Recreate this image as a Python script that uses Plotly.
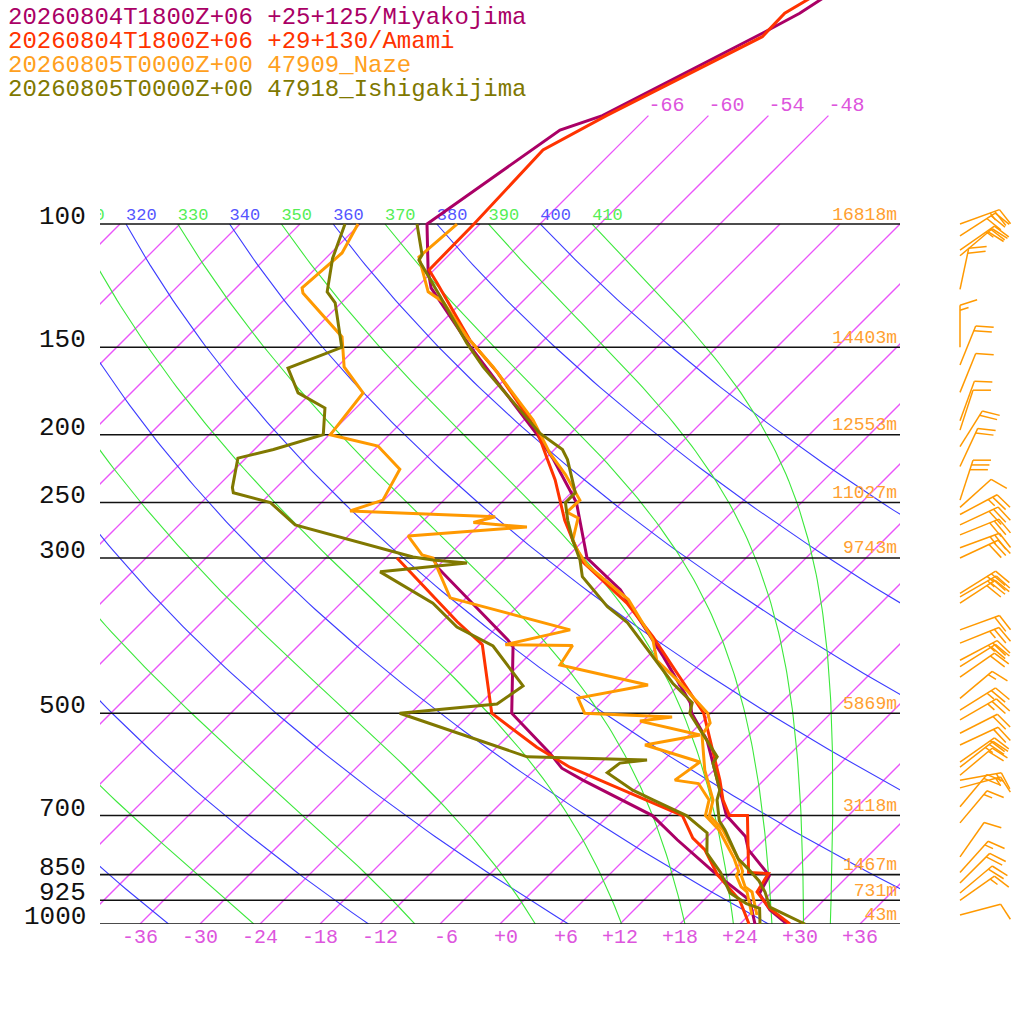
import numpy as np
import plotly.graph_objects as go

# ---------------- sounding data (hPa, degC) ----------------
miyako_p = [1000, 955, 905, 853, 783, 750, 700, 644, 546, 500, 483, 415, 333, 300, 250, 217, 200, 150, 123.4, 116.3, 100, 73.4, 70, 53.3, 50, 40]
miyako_t = [28.7, 25.6, 22.9, 22.1, 17.4, 15.8, 11.8, 8.6, 2.3, -1.9, -3.1, -10.4, -21.4, -27.9, -34.5, -41.1, -45.2, -60.6, -70.5, -72.6, -77.3, -73.4, -70.6, -62.8, -61.1, -57.5]
miyako_td_p = [1000, 925, 842, 758, 700, 623, 599, 570, 500, 402, 393, 310, 300]
miyako_td = [25.5, 22.6, 16.1, 9.3, 4.4, -6.1, -9.4, -12.1, -19.9, -26.4, -27.6, -41.8, -43.3]

amami_p = [1000, 950, 900, 847, 844, 700, 700, 665, 623, 500, 389, 348, 304, 283, 265, 248, 232, 217, 197, 163, 146.5, 121.4, 116.3, 100, 78.4, 70, 54, 50, 40]
amami_t = [29.0, 25.4, 22.5, 21.8, 19.7, 13.9, 12.1, 9.9, 7.6, -0.7, -13.4, -19.4, -27.9, -31.1, -33.9, -36.4, -38.9, -41.7, -45.7, -55.4, -61.4, -70.4, -72.5, -72.6, -73.1, -70.2, -62.5, -62.6, -58.0]
amami_td_p = [1000, 925, 850, 784, 754, 700, 623, 597, 559, 500, 399, 370, 300]
amami_td = [24.9, 21.6, 16.8, 13.1, 10.7, 7.4, -4.4, -8.7, -14.0, -21.9, -29.7, -34.5, -46.9]

naze_p = [971, 900, 885, 853, 841, 805, 734, 700, 665, 603, 537, 516, 500, 448, 420, 393, 344, 307, 292, 283, 263, 258, 248, 228, 212.5, 190.5, 160, 145, 129.2, 125, 111.5, 100]
naze_t = [24.8, 22.0, 20.8, 19.3, 19.0, 17.2, 12.9, 10.1, 8.9, 5.1, 1.3, 0.9, -0.3, -6.7, -10.7, -13.1, -19.6, -27.2, -29.7, -31.1, -32.8, -34.5, -34.4, -38.4, -42.1, -47.1, -56.4, -62.0, -67.9, -70.4, -74.8, -74.3]
naze_td_p = [971, 900, 885, 853, 841, 805, 734, 700, 665, 630, 623, 587, 555, 537, 513, 506, 500, 475.5, 455.6, 426.6, 400, 399, 380, 342, 300, 297, 279, 271, 267, 262, 257, 248, 224, 207.6, 200, 174.3, 160, 145, 125.5, 123.4, 110, 100]
naze_td = [24.3, 21.5, 20.4, 18.8, 18.6, 16.8, 12.5, 9.7, 8.5, 5.8, 3.1, 3.8, -3.4, 1.1, -6.3, -3.5, -12.6, -14.8, -9.1, -19.9, -20.6, -27.4, -22.4, -37.6, -43.3, -44.7, -48.0, -37.0, -42.8, -41.2, -56.3, -54.1, -55.5, -60.0, -65.9, -66.8, -71.3, -74.5, -82.8, -83.4, -82.9, -84.2]

ishi_p = [1000, 946, 900, 868, 834, 807, 734, 712, 665, 644, 589, 577, 500, 483, 453, 371, 352, 319, 302, 283, 265, 250, 242, 217, 210, 199, 160, 148, 127, 112.6, 110.7, 100]
ishi_t = [30.5, 25.3, 23.3, 21.6, 19.3, 17.3, 13.1, 11.6, 9.3, 8.6, 5.2, 5.0, -2.1, -2.9, -6.8, -17.4, -21.0, -26.5, -28.4, -31.1, -33.6, -35.6, -35.6, -39.7, -41.2, -45.1, -57.4, -61.4, -68.7, -74.5, -74.7, -78.3]
ishi_td_p = [1000, 950, 935, 903, 844, 792, 741, 700, 665, 644, 608, 589, 583, 577, 500, 485, 457, 400.7, 376.5, 348, 314, 305, 302, 299, 269, 250, 242, 238, 216, 210, 200, 183.2, 174.3, 160.6, 150, 129.6, 125, 112, 100]
ishi_td = [26.0, 24.4, 22.6, 19.9, 16.9, 13.6, 11.6, 7.8, 2.9, -0.1, -4.4, -4.1, -1.7, -14.0, -31.1, -22.3, -21.5, -28.5, -34.0, -38.8, -47.2, -39.4, -43.1, -45.4, -60.4, -65.1, -69.8, -70.4, -72.8, -70.1, -66.6, -69.1, -73.3, -76.8, -73.5, -78.6, -80.5, -83.3, -85.5]

# Naze winds (hPa, direction deg, knots)
wind_p = [971, 925, 903, 874, 844, 802, 717, 680, 639, 623, 613, 597, 587, 555, 534, 511, 495, 476, 444, 429,
          420, 397, 380, 348, 341, 337, 300, 290, 278, 269, 260, 254, 248, 222, 208, 197, 191, 174, 159, 150,
          124, 111, 109, 104, 100]
wind_dir = [75, 55, 50, 45, 42, 35, 40, 40, 75, 80, 50, 52, 55, 65, 63, 60, 58, 50, 55, 58,
            62, 68, 70, 57, 60, 58, 65, 70, 68, 65, 62, 48, 18, 25, 32, 18, 20, 22, 22, 0,
            12, 50, 55, 57, 70]
wind_kt = [10, 15, 20, 20, 15, 10, 15, 20, 15, 15, 20, 25, 20, 20, 20, 25, 25, 15, 20, 20,
           25, 25, 20, 30, 25, 25, 30, 25, 30, 30, 25, 10, 30, 20, 20, 10, 10, 10, 20, 15,
           20, 20, 25, 30, 25]

legend_txt = ["20260804T1800Z+06 +25+125/Miyakojima", "20260804T1800Z+06 +29+130/Amami",
              "20260805T0000Z+00 47909_Naze", "20260805T0000Z+00 47918_Ishigakijima"]
station_colors = ["#aa0066", "#ff3300", "#ff9900", "#807800"]
legend_colors = ["#aa0066", "#ff3300", "#ffa020", "#807800"]

isobars = [100, 150, 200, 250, 300, 500, 700, 850, 925, 1000]
heights = ["16818m", "14403m", "12553m", "11027m", "9743m", "5869m", "3118m", "1467m", "731m", "43m"]
isotherms = list(range(-120, 43, 6))
upper_isotherms = [-66, -60, -54, -48]
dry_thetas = list(range(200, 401, 20))
moist_thetas = list(range(190, 411, 20))
temp_ticks = list(range(-36, 37, 6))

KAPPA = 0.2857
SKEW = 70.0
ISO_COLOR = "#ea55fa"


def sx(p, t):
    return np.asarray(t, float) + SKEW * np.log10(1000.0 / np.asarray(p, float))


def ypix(p):
    return 224 + 700 * np.log10(p / 100.0)


def p_from_pix(y):
    return 100.0 * 10 ** ((y - 224) / 700.0)


def moist_adiabat(theta100, plev):
    Rd, cp, Lv, eps = 287.04, 1005.7, 2.501e6, 0.622

    def rate(lnp, t):
        p = np.exp(lnp)
        es = 6.112 * np.exp(17.67 * (t - 273.15) / (t - 29.65))
        rs = eps * es / (p - es)
        return (Rd * t + Lv * rs) / (cp + Lv * Lv * rs * eps / (Rd * t * t))

    lnp = np.log(plev)
    t = theta100 * 0.1 ** KAPPA
    out = [t]
    for a, b in zip(lnp[:-1], lnp[1:]):
        h = b - a
        k1 = rate(a, t)
        k2 = rate(a + h / 2, t + h * k1 / 2)
        k3 = rate(a + h / 2, t + h * k2 / 2)
        k4 = rate(b, t + h * k3)
        t = t + h * (k1 + 2 * k2 + 2 * k3 + k4) / 6
        out.append(t)
    return np.array(out) - 273.15


fig = go.Figure()
plev = np.geomspace(100, 1000, 121)

# isotherms
xs, ys = [], []
seg = np.geomspace(100, 1000, 25)
for t in isotherms:
    xs += [float(v) for v in sx(seg, np.full(seg.size, t))] + [None]
    ys += [float(v) for v in seg] + [None]
seg_up = np.geomspace(70, 100, 8)
for t in upper_isotherms:
    xs += [float(v) for v in sx(seg_up, np.full(seg_up.size, t))] + [None]
    ys += [float(v) for v in seg_up] + [None]
fig.add_trace(go.Scatter(x=xs, y=ys, mode="lines", line=dict(color=ISO_COLOR, width=1.3), hoverinfo="skip"))

# dry adiabats
xs, ys = [], []
for th in dry_thetas:
    tt = th * (plev / 1000.0) ** KAPPA - 273.15
    xs += [float(v) for v in sx(plev, tt)] + [None]
    ys += [float(v) for v in plev] + [None]
fig.add_trace(go.Scatter(x=xs, y=ys, mode="lines", line=dict(color="#3c3cff", width=1.1), hoverinfo="skip"))

# moist adiabats
xs, ys = [], []
for th in moist_thetas:
    tt = moist_adiabat(th, plev)
    xs += [float(v) for v in sx(plev, tt)] + [None]
    ys += [float(v) for v in plev] + [None]
fig.add_trace(go.Scatter(x=xs, y=ys, mode="lines", line=dict(color="#3ce83c", width=1.1), hoverinfo="skip"))

# theta labels at 100 hPa
lab_th = [th for th in sorted(set(dry_thetas + moist_thetas)) if th >= 310]
lab_x = [float(sx(100, th * 0.1 ** KAPPA - 273.15)) for th in lab_th]
lab_c = ["#5555ff" if th in dry_thetas else "#55ee55" for th in lab_th]
fig.add_trace(go.Scatter(x=lab_x, y=[100] * len(lab_th), mode="text", text=[str(t) for t in lab_th],
                         textposition="top right", cliponaxis=True,
                         textfont=dict(family="Liberation Mono", size=17, color=lab_c), hoverinfo="skip"))

# upper isotherm labels
fig.add_trace(go.Scatter(x=[float(v) for v in sx([70] * 4, upper_isotherms)], y=[70] * 4, mode="text",
                         text=["%d" % t for t in upper_isotherms], textposition="top right",
                         textfont=dict(family="Liberation Mono", size=20, color="#dd55dd"), hoverinfo="skip"))

# isobars
xs, ys = [], []
for p in isobars:
    xs += [-40, 40, None]
    ys += [p, p, None]
fig.add_trace(go.Scatter(x=xs, y=ys, mode="lines", line=dict(color="#111111", width=1.6), hoverinfo="skip"))

# height labels
fig.add_trace(go.Scatter(x=[39.7] * len(isobars), y=isobars, mode="text", text=heights, textposition="top left",
                         textfont=dict(family="Liberation Mono", size=18, color="#ffa030"), hoverinfo="skip"))

# soundings
for (pp, tt), col in zip([(miyako_p, miyako_t), (miyako_td_p, miyako_td), (amami_p, amami_t), (amami_td_p, amami_td),
                          (naze_p, naze_t), (naze_td_p, naze_td), (ishi_p, ishi_t), (ishi_td_p, ishi_td)],
                         [station_colors[0], station_colors[0], station_colors[1], station_colors[1],
                          station_colors[2], station_colors[2], station_colors[3], station_colors[3]]):
    fig.add_trace(go.Scatter(x=[float(v) for v in sx(pp, tt)], y=pp, mode="lines",
                             line=dict(color=col, width=3), hoverinfo="skip"))

# wind barbs (pixel units on x2)
bx, by = [], []
for p, d, kt in zip(wind_p, wind_dir, wind_kt):
    y0 = ypix(p)
    x0 = 960.0
    r = np.radians(d)
    fr = np.radians(d + 72)
    tx, ty = x0 + 42 * np.sin(r), y0 - 42 * np.cos(r)
    bx += [x0, float(tx), None]
    by += [p, float(p_from_pix(ty)), None]
    lens = [18] * (kt // 10) + [9] * ((kt % 10) // 5)
    for i, ln in enumerate(lens):
        fx, fy = tx - 5 * i * np.sin(r), ty + 5 * i * np.cos(r)
        ex, ey = fx + ln * np.sin(fr), fy - ln * np.cos(fr)
        bx += [float(fx), float(ex), None]
        by += [float(p_from_pix(fy)), float(p_from_pix(ey)), None]
fig.add_trace(go.Scatter(x=bx, y=by, xaxis="x2", yaxis="y", mode="lines",
                         line=dict(color="#ff9900", width=1.5), hoverinfo="skip"))

ann = []
for i, (txt, col) in enumerate(zip(legend_txt, legend_colors)):
    ann.append(dict(xref="paper", yref="paper", x=6 / 1024, y=1 - (17 + 24 * i) / 1024, text=txt,
                    showarrow=False, xanchor="left", yanchor="middle",
                    font=dict(family="Liberation Mono", size=24, color=col)))
for p in isobars:
    ann.append(dict(xref="paper", yref="y", x=88 / 1024, y=np.log10(p), text=str(p), showarrow=False,
                    xanchor="right", yanchor="middle", yshift=7,
                    font=dict(family="Liberation Mono", size=26, color="#111111")))
for t in temp_ticks:
    ann.append(dict(xref="x", yref="paper", x=t, y=(1024 - 937) / 1024, text="%+d" % t, showarrow=False,
                    xanchor="right", xshift=20, yanchor="middle",
                    font=dict(family="Liberation Mono", size=20, color="#dd55dd")))

fig.update_layout(
    width=1024, height=1024, margin=dict(l=0, r=0, t=0, b=0),
    plot_bgcolor="white", paper_bgcolor="white", showlegend=False, annotations=ann,
    xaxis=dict(domain=[100 / 1024, 900 / 1024], range=[-40, 40], showgrid=False, zeroline=False, showline=False,
               showticklabels=False, ticks=""),
    yaxis=dict(domain=[100 / 1024, 1], type="log", range=[3, np.log10(47.86)], showgrid=False, zeroline=False,
               showticklabels=False, ticks=""),
    xaxis2=dict(domain=[930 / 1024, 1], range=[930, 1024], anchor="y", visible=False),
)

fig.write_html("out.html", config={"displayModeBar": False},
               post_script="document.body.style.margin='0';")
